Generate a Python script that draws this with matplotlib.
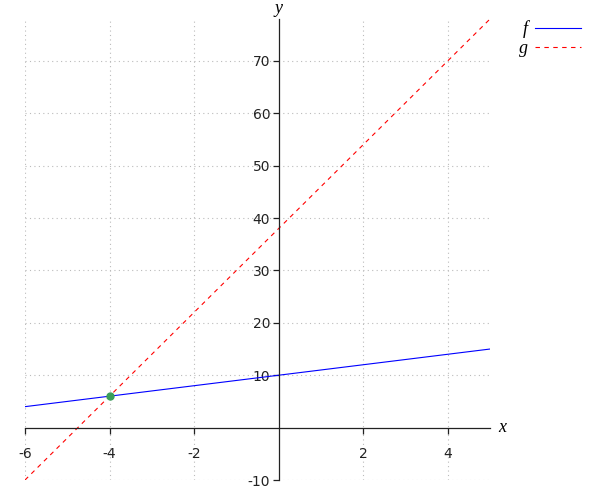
import matplotlib
matplotlib.use("Agg")
from matplotlib import pyplot as plt
import numpy as np

# f(x) = x + 10, g(x) = 8x + 38
x_vals = np.array([-6, 5])
f_vals = np.array([4, 15])
g_vals = np.array([-10, 78])
meet_x = [-4]
meet_y = [6]

x_ticks = [-6, -4, -2, 2, 4]
y_ticks = [-10, 10, 20, 30, 40, 50, 60, 70]

plt.rcParams['axes.unicode_minus'] = False

fig = plt.figure(figsize=(6, 5), dpi=100)
ax = fig.add_axes([25/600, 20/500, 465/600, 461/500])

ax.plot(x_vals, f_vals, color='blue', lw=0.8, label='f')
ax.plot(x_vals, g_vals, color='red', lw=0.8, ls=(0, (4, 4)), label='g')
ax.plot(meet_x, meet_y, 'o', color='#3a9e5a', ms=5, zorder=5)

ax.set_xlim(-6, 5)
ax.set_ylim(-10, 78)

ax.spines['left'].set_position(('data', 0))
ax.spines['bottom'].set_position(('data', 0))
ax.spines['right'].set_visible(False)
ax.spines['top'].set_visible(False)
for s in ('left', 'bottom'):
    ax.spines[s].set_linewidth(0.9)
    ax.spines[s].set_color('#222222')

ax.set_xticks(x_ticks)
ax.set_yticks(y_ticks)
ax.tick_params(axis='both', labelsize=10, length=4, width=0.9,
               colors='#222222', direction='out', pad=10)
ax.tick_params(axis='y', pad=2)
ax.grid(True, ls=(0, (1, 3)), color='#bbbbbb', lw=0.8)
ax.set_axisbelow(True)

serif = {'family': 'Liberation Serif', 'style': 'italic', 'size': 13}
ax.text(5.2, 0, 'x', fontdict=serif, va='center', ha='left')
ax.text(0, 78.3, 'y', fontdict=serif, va='bottom', ha='center')

fig.legend(loc='upper left', bbox_to_anchor=(503/600, 1 - 4/500),
           frameon=False, prop=serif, markerfirst=False,
           handlelength=2.5, handletextpad=0.4, labelspacing=0.1)

fig.savefig("out.png", dpi=100)
